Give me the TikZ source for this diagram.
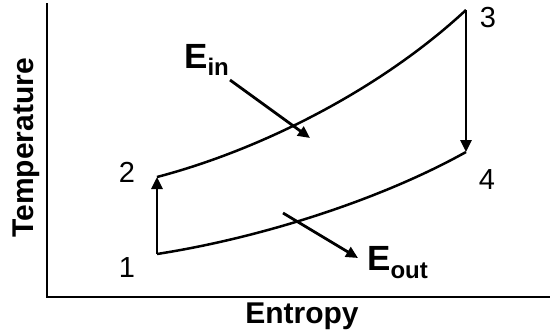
\documentclass[tikz,border=0pt]{standalone}
\usepackage{fontspec}
\setmainfont{Liberation Sans}
\usetikzlibrary{arrows.meta,positioning}

\begin{document}
\begin{tikzpicture}[x=1pt,y=-1pt,
    curve/.style={line width=2.5pt, line join=miter},
    flow/.style={line width=2.8pt, -{Triangle[length=12pt,width=11pt]}},
    num/.style={font=\fontsize{29}{29}\selectfont, inner sep=0pt},
    axislabel/.style={font=\fontsize{30}{30}\selectfont\bfseries, inner sep=0pt},
    energy/.style={anchor=base west, inner sep=0pt, font=\fontsize{35}{35}\selectfont\bfseries}]
  \useasboundingbox (0,0) rectangle (550,335);
  % axes
  \coordinate (top) at (47,3);
  \coordinate (orig) at (47,297);
  \coordinate (right) at (550,297);
  \draw[line width=2pt] (top) -- (orig) -- (right);
  \node[axislabel, anchor=base] (xlab) at (302,323) {Entropy};
  \node[axislabel, anchor=base, rotate=90] (ylab) at (33,148) {Temperature};
  % cycle states
  \coordinate (p1) at (157,254);
  \coordinate (p2) at (157,177);
  \coordinate (p3) at (466,10);
  \coordinate (p4) at (466,152);
  \node[num] (n1) at (127,268) {1};
  \node[num] (n2) at (127,172) {2};
  \node[num] (n3) at (488,18) {3};
  \node[num] (n4) at (487,180) {4};
  % process paths
  \draw[curve] (p2) .. controls (260,150) and (380,90) .. (p3);
  \draw[curve] (p1) .. controls (260,238) and (380,200) .. (p4);
  \draw[flow] (p1) -- (p2);
  \draw[flow] (p3) -- (p4);
  % energy flows
  \node[energy] (ein) at (184,68) {E\raisebox{-7pt}{\fontsize{24}{24}\selectfont in}};
  \node[energy] (eout) at (367,270) {E\raisebox{-8pt}{\fontsize{24}{24}\selectfont out}};
  \coordinate (inS) at (230,80);
  \coordinate (inE) at (310,138);
  \coordinate (outS) at (283,213);
  \coordinate (outE) at (358,258);
  \draw[flow] (inS) -- (inE);
  \draw[flow] (outS) -- (outE);
\end{tikzpicture}
\end{document}
